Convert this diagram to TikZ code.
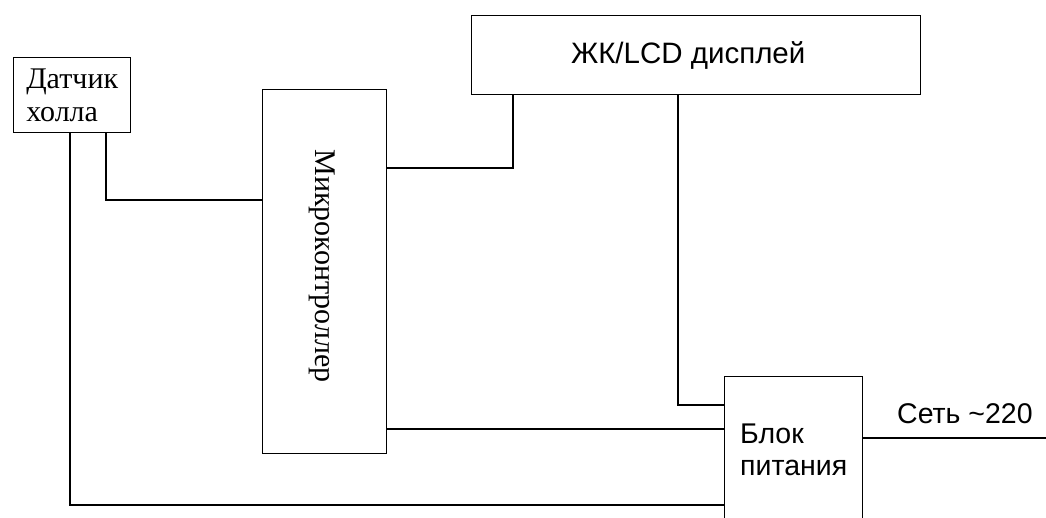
\documentclass[tikz,border=0pt]{standalone}
\usepackage{fontspec}
\setmainfont{Liberation Serif}
\newfontfamily\arialf{Liberation Sans}
\begin{document}
\begin{tikzpicture}[x=1pt,y=-1pt,
  blk/.style={draw=black, line width=1.4pt, rectangle, inner sep=0pt},
  wire/.style={draw=black, line width=1.4pt},
  serift/.style={font=\fontsize{30}{33}\selectfont},
  sanst/.style={font=\arialf\fontsize{28.5}{32}\selectfont}]
\clip (0,0) rectangle (1046,518);
\fill[white] (0,0) rectangle (1046,518);
\node[blk, serift, align=left, minimum width=117pt, minimum height=75pt, anchor=north west] (hall) at (13,57) {Датчик\\холла};
\node[blk, minimum width=124pt, minimum height=364pt, anchor=north west] (mc) at (262,89) {};
\node[serift, rotate=-90] (mctext) at (322,266) {Микроконтроллер};
\node[blk, sanst, font=\arialf\fontsize{29.5}{32}\selectfont, minimum width=449pt, minimum height=79pt, anchor=north west] (lcd) at (471,15) {ЖК/LCD дисплей\hspace*{16pt}};
\node[blk, sanst, align=left, minimum width=138pt, minimum height=146pt, anchor=north west] (psu) at (724,376) {Блок\\питания};
\node[sanst, anchor=base west, inner sep=0pt] (net) at (897,423) {Сеть \textasciitilde220};
\coordinate (mains) at (1046,438);
\draw[wire] (hall.south -| 106,0) |- (mc.west |- 0,200);
\draw[wire] (hall.south -| 70,0) |- (psu.west |- 0,505);
\draw[wire] (mc.east |- 0,168) -| (lcd.south -| 513,0);
\draw[wire] (lcd.south -| 678,0) |- (psu.west |- 0,405);
\draw[wire] (mc.east |- 0,429) -- (psu.west |- 0,429);
\draw[wire] (psu.east |- mains) -- (mains);
\end{tikzpicture}
\end{document}
